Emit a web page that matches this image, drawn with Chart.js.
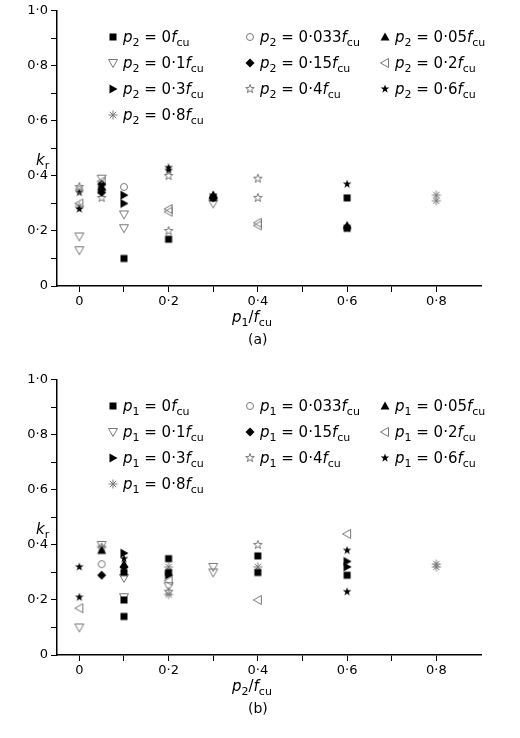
<!DOCTYPE html>
<html><head><meta charset="utf-8">
<script src="https://cdn.jsdelivr.net/npm/chart.js@4/dist/chart.umd.min.js"></script>
<style>body{margin:0;background:#fff}canvas{display:block}</style></head>
<body><div style="width:520px;height:369px"><canvas id="a"></canvas></div><div style="width:520px;height:369px"><canvas id="b"></canvas></div>
<script>
const xTicks=[0,0.1,0.2,0.3,0.4,0.5,0.6,0.7,0.8];
const yTicks=[0,0.1,0.2,0.3,0.4,0.5,0.6,0.7,0.8,0.9,1.0];
const levelLabels=['0','0·033','0·05','0·1','0·15','0·2','0·3','0·4','0·6','0·8'];
const markers=['sq','circ','tri','vtri','dia','ltri','rtri','ostar','fstar','ast'];
// chart (a): k_r vs p1/fcu, series by p2
const aX=[[0.1,0.2,0.3,0.6,0.6],[0,0.1],[0.05,0.3,0.6],[0,0,0.05,0.1,0.1,0.3],[0.05,0.05,0.3],[0,0.05,0.2,0.2,0.4,0.4],[0.05,0.1,0.1],[0,0.05,0.2,0.2,0.4,0.4],[0,0,0.2,0.2,0.3,0.6,0.6],[0,0.8,0.8]];
const aY=[[0.10,0.17,0.32,0.32,0.21],[0.35,0.36],[0.36,0.33,0.22],[0.18,0.13,0.39,0.26,0.21,0.30],[0.37,0.34,0.32],[0.30,0.38,0.28,0.27,0.23,0.22],[0.35,0.33,0.30],[0.36,0.32,0.40,0.20,0.39,0.32],[0.34,0.28,0.43,0.42,0.33,0.37,0.21],[0.29,0.33,0.31]];
// chart (b): k_r vs p2/fcu, series by p1
const bX=[[0.1,0.1,0.1,0.2,0.2,0.4,0.4,0.6],[0.05],[0.05,0.1],[0,0.05,0.1,0.1,0.3,0.3,0.2],[0.05,0.1],[0,0.4,0.6,0.2],[0.1,0.6,0.6,0.2],[0.05,0.4,0.2],[0,0,0.6,0.6,0.1],[0.05,0.2,0.2,0.4,0.8,0.8]];
const bY=[[0.30,0.20,0.14,0.35,0.30,0.36,0.30,0.29],[0.33],[0.38,0.33],[0.10,0.40,0.28,0.21,0.32,0.30,0.25],[0.29,0.32],[0.17,0.20,0.44,0.27],[0.37,0.34,0.32,0.29],[0.39,0.40,0.23],[0.32,0.21,0.38,0.23,0.35],[0.39,0.32,0.22,0.32,0.33,0.32]];

function mk(type){
  const c=document.createElement('canvas');c.width=c.height=12;const g=c.getContext('2d');
  const gray='#777',blk='#000';g.lineWidth=1;g.translate(6,6);
  const poly=(pts,fill)=>{g.beginPath();pts.forEach((p,i)=>i?g.lineTo(p[0],p[1]):g.moveTo(p[0],p[1]));g.closePath();if(fill){g.fillStyle=blk;g.fill();}else{g.strokeStyle=gray;g.stroke();}};
  const star=(fill)=>{const p=[];for(let i=0;i<10;i++){const r=i%2?1.8:4.5,a=-Math.PI/2+i*Math.PI/5;p.push([r*Math.cos(a),r*Math.sin(a)]);}poly(p,fill);};
  switch(type){
    case 'sq':g.fillStyle=blk;g.fillRect(-3.5,-3.5,7,7);break;
    case 'circ':g.strokeStyle=gray;g.beginPath();g.arc(0,0,3.5,0,7);g.stroke();break;
    case 'tri':poly([[0,-4.5],[4.5,3.5],[-4.5,3.5]],true);break;
    case 'vtri':poly([[0,4.5],[4.5,-3.5],[-4.5,-3.5]],false);break;
    case 'dia':poly([[0,-4.5],[4.5,0],[0,4.5],[-4.5,0]],true);break;
    case 'ltri':poly([[-4.5,0],[3.5,-4.5],[3.5,4.5]],false);break;
    case 'rtri':poly([[4.5,0],[-3.5,-4.5],[-3.5,4.5]],true);break;
    case 'ostar':star(false);break;
    case 'fstar':star(true);break;
    case 'ast':g.strokeStyle=gray;for(let i=0;i<4;i++){const a=i*Math.PI/4;g.beginPath();g.moveTo(-4.5*Math.cos(a),-4.5*Math.sin(a));g.lineTo(4.5*Math.cos(a),4.5*Math.sin(a));g.stroke();}break;
  }
  return c;
}
const imgs=markers.map(mk);
const FONT='"DejaVu Sans"';
function fmt(v){return v===0?'0':v.toFixed(1).replace('.','·');}

function subText(g,x,y,parts){
  let cx=x;
  for(const [t,s] of parts){
    if(s==='i'){g.font='italic 15px '+FONT;g.fillText(t,cx,y);}
    else if(s==='s'){g.font='11px '+FONT;g.fillText(t,cx,y+4);}
    else {g.font='15px '+FONT;g.fillText(t,cx,y);}
    cx+=g.measureText(t).width;
  }
}
function build(id,X,Y,pn,xn,tag){
  const datasets=X.map((xs,i)=>({label:String(i),data:xs.map((x,j)=>({x,y:Y[i][j]})),pointStyle:imgs[i],pointRadius:6,showLine:false}));
  const deco={id:'deco'+id,afterDraw(ch){
    const g=ch.ctx;g.save();g.fillStyle='#000';g.textBaseline='alphabetic';
    const cols=[113,250,385],rows=[42,68,94,120];
    levelLabels.forEach((lv,i)=>{
      const cx=cols[i%3],cy=rows[Math.floor(i/3)];
      g.drawImage(imgs[i],cx-6,cy-11);
      subText(g,cx+10,cy,[['p','i'],[pn,'s'],[' = '+lv,'n'],['f','i'],['cu','s']]);
    });
    subText(g,36,165,[['k','i'],['r','s']]);
    subText(g,232,322,[['p','i'],[xn,'s'],['/','n'],['f','i'],['cu','s']]);
    g.font='14px '+FONT;g.fillText(tag,248,344);
    g.restore();}};
  new Chart(document.getElementById(id),{type:'scatter',data:{datasets},plugins:[deco],
    options:{responsive:true,maintainAspectRatio:false,animation:false,
      layout:{padding:{top:10,right:39,left:0,bottom:0}},
      plugins:{legend:{display:false},tooltip:{enabled:false}},
      scales:{
        x:{type:'linear',min:-0.05,max:0.9,afterBuildTicks:s=>{s.ticks=xTicks.map(v=>({value:v}));},
          afterFit:s=>{s.height=83;},
          grid:{drawOnChartArea:false,drawTicks:true,tickLength:6,color:'#000'},border:{color:'#000',width:1.5},
          ticks:{color:'#000',font:{family:FONT,size:13},padding:2,maxRotation:0,autoSkip:false,callback:v=>(Math.round(v*10)%2===0?fmt(v):'')}},
        y:{type:'linear',min:0,max:1.0,afterBuildTicks:s=>{s.ticks=yTicks.map(v=>({value:v}));},
          afterFit:s=>{s.width=57;},
          grid:{drawOnChartArea:false,drawTicks:true,tickLength:6,color:'#000'},border:{color:'#000',width:1.5},
          ticks:{color:'#000',font:{family:FONT,size:13},padding:3,autoSkip:false,callback:v=>(Math.round(v*10)%2===0?fmt(v):'')}}
      }}});
}
build('a',aX,aY,'2','1','(a)');
build('b',bX,bY,'1','2','(b)');
</script></body></html>
